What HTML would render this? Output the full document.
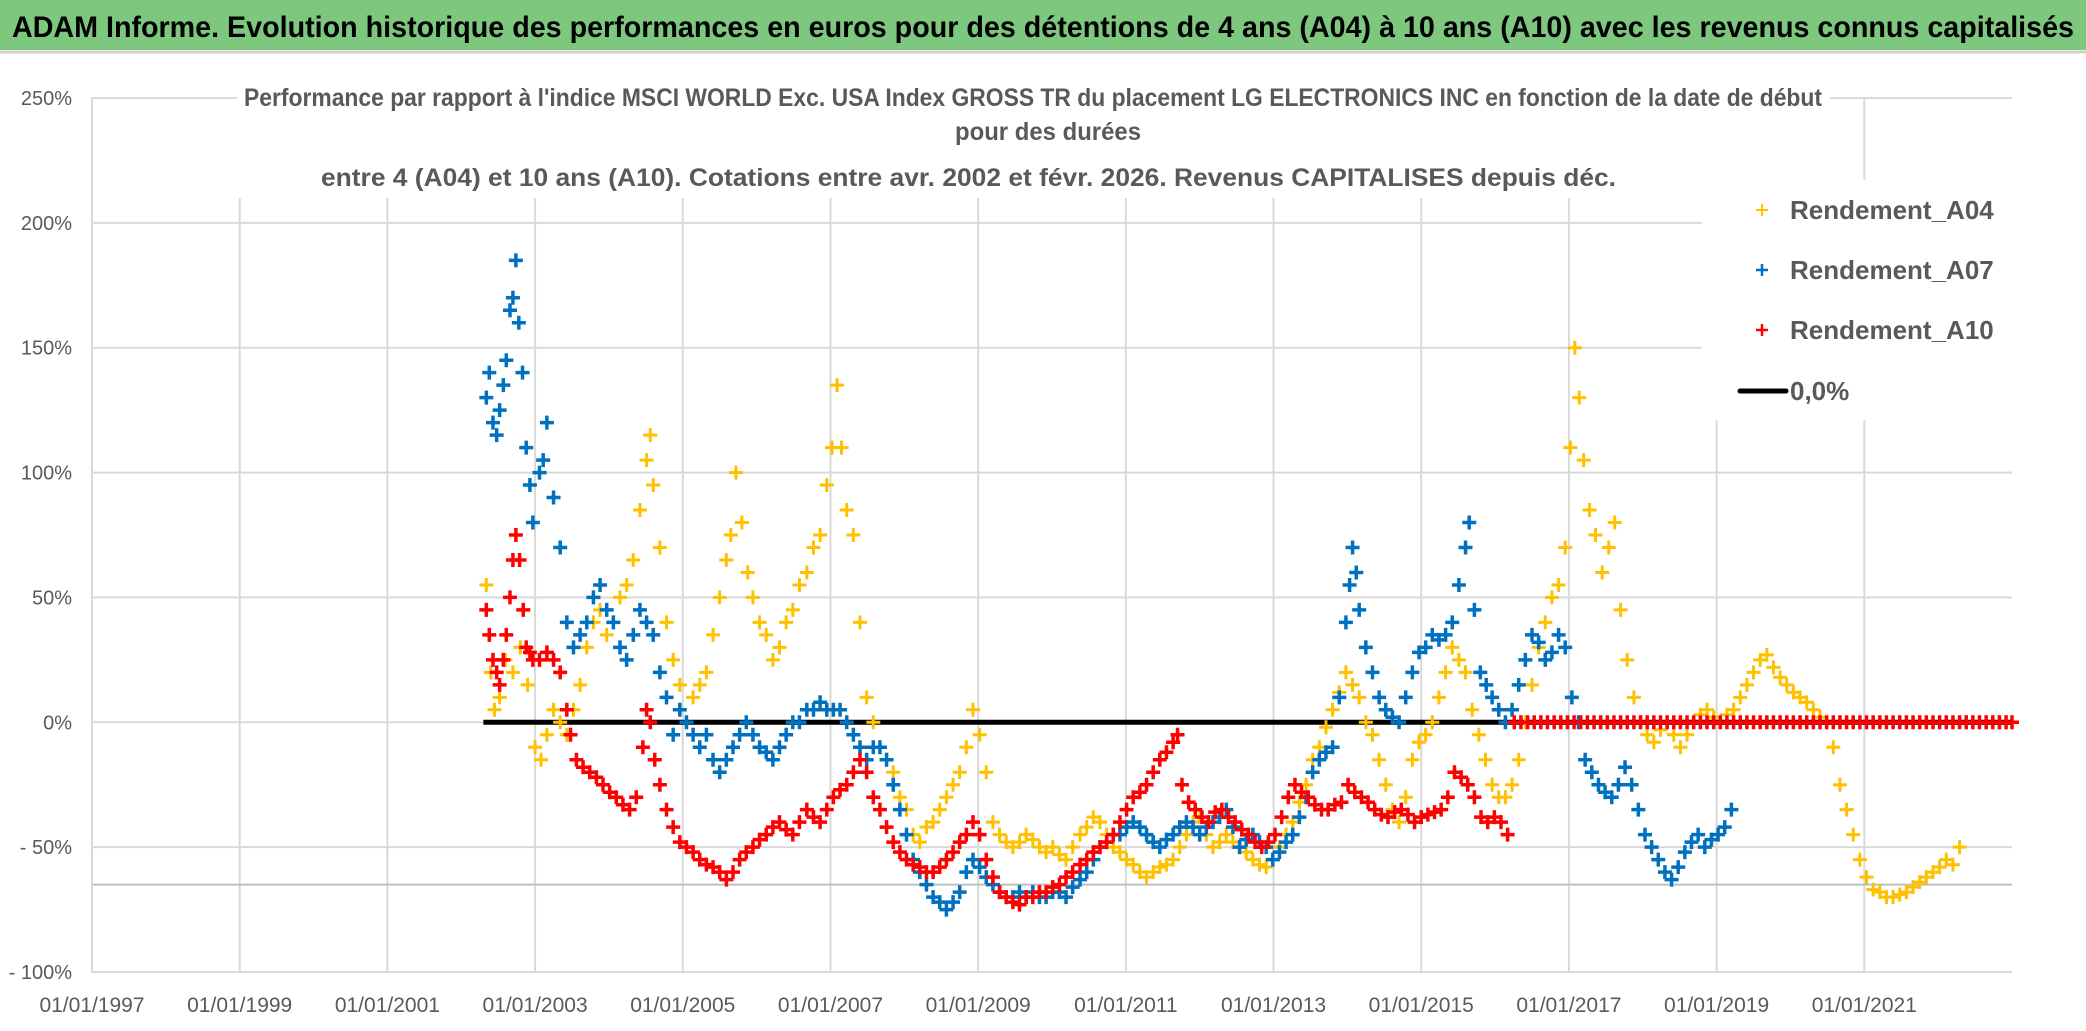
<!DOCTYPE html>
<html><head><meta charset="utf-8"><style>
html,body{margin:0;padding:0;background:#fff;}
svg{display:block;}
text{font-family:"Liberation Sans Narrow","Liberation Sans",sans-serif;}
</style></head><body>
<svg id="chart" width="2086" height="1031" viewBox="0 0 2086 1031" xmlns="http://www.w3.org/2000/svg">
<rect x="0" y="0" width="2086" height="1031" fill="#fff"/>
<rect x="0" y="0" width="2086" height="50" fill="#7dc87e"/>
<line x1="0" y1="52" x2="2086" y2="52" stroke="#d0d0d0" stroke-width="3"/>
<text x="12" y="37" font-size="30" font-weight="bold" fill="#000" textLength="2062" lengthAdjust="spacingAndGlyphs">ADAM Informe. Evolution historique des performances en euros pour des détentions de 4 ans (A04) à 10 ans (A10) avec les revenus connus capitalisés</text>
<g id="grid"></g>
<rect x="237" y="78" width="1593" height="120" fill="#fff"/>
<text x="244" y="106" font-size="25" font-weight="bold" fill="#595959" textLength="1578" lengthAdjust="spacingAndGlyphs">Performance par rapport à l'indice MSCI WORLD Exc. USA Index GROSS TR  du placement LG ELECTRONICS INC en fonction de la date de début</text>
<text x="1048" y="140" font-size="25" font-weight="bold" fill="#595959" text-anchor="middle" textLength="186" lengthAdjust="spacingAndGlyphs">pour des durées</text>
<text x="321" y="186" font-size="25" font-weight="bold" fill="#595959" textLength="1295" lengthAdjust="spacingAndGlyphs">entre 4 (A04) et 10 ans (A10). Cotations entre avr. 2002 et févr. 2026. Revenus CAPITALISES depuis déc.</text>
<g id="axes"></g>
<g id="series"></g>
<g>
<rect x="1702" y="180" width="313" height="240" fill="#fff"/>
<g><path d="M1756 210h12M1762 204v12" stroke="#ffc000" stroke-width="2"/><text x="1790" y="219" font-size="26" fill="#595959" font-weight="bold">Rendement_A04</text></g>
<g><path d="M1756 270h12M1762 264v12" stroke="#0070c0" stroke-width="2.5"/><text x="1790" y="279" font-size="26" fill="#595959" font-weight="bold">Rendement_A07</text></g>
<g><path d="M1756 330h12M1762 324v12" stroke="#ff0000" stroke-width="2.5"/><text x="1790" y="339" font-size="26" fill="#595959" font-weight="bold">Rendement_A10</text></g>
<g><line x1="1740" y1="391" x2="1786" y2="391" stroke="#000" stroke-width="5" stroke-linecap="round"/><text x="1790" y="400" font-size="26" fill="#595959" font-weight="bold">0,0%</text></g>
</g>
</svg>
<script>
const yTicks = [250,200,150,100,50,0,-50,-100];
const yTickLabels = ["250%","200%","150%","100%","50%","0%","- 50%","- 100%"];
const xTicks = [1997,1999,2001,2003,2005,2007,2009,2011,2013,2015,2017,2019,2021];
const xTickLabels = ["01/01/1997","01/01/1999","01/01/2001","01/01/2003","01/01/2005","01/01/2007","01/01/2009","01/01/2011","01/01/2013","01/01/2015","01/01/2017","01/01/2019","01/01/2021"];
const zeroLineRange = [2002.3, 2023.0];
const axisCross = -65;

const a04Years = [2002.34,2002.40,2002.45,2002.52,2002.60,2002.70,2002.80,2002.90,2003.00,2003.08,2003.16,2003.25,2003.34,2003.43,2003.52,2003.61,2003.70,2003.79,2003.88,2003.97,2004.06,2004.15,2004.24,2004.33,2004.42,2004.51,2004.56,2004.60,2004.69,2004.78,2004.87,2004.96,2005.05,2005.14,2005.23,2005.32,2005.41,2005.50,2005.59,2005.65,2005.72,2005.80,2005.88,2005.95,2006.04,2006.13,2006.22,2006.31,2006.40,2006.49,2006.58,2006.68,2006.77,2006.86,2006.95,2007.02,2007.09,2007.15,2007.22,2007.31,2007.40,2007.49,2007.58,2007.67,2007.76,2007.85,2007.94,2008.03,2008.12,2008.21,2008.30,2008.39,2008.48,2008.57,2008.66,2008.75,2008.84,2008.93,2009.02,2009.11,2009.20,2009.29,2009.38,2009.47,2009.56,2009.65,2009.74,2009.83,2009.92,2010.01,2010.10,2010.19,2010.28,2010.38,2010.47,2010.56,2010.65,2010.74,2010.83,2010.92,2011.01,2011.10,2011.19,2011.28,2011.37,2011.46,2011.55,2011.64,2011.73,2011.82,2011.91,2012.00,2012.09,2012.18,2012.27,2012.36,2012.45,2012.54,2012.63,2012.72,2012.81,2012.90,2012.99,2013.08,2013.17,2013.26,2013.35,2013.44,2013.53,2013.62,2013.71,2013.80,2013.89,2013.98,2014.07,2014.16,2014.25,2014.34,2014.43,2014.52,2014.61,2014.70,2014.79,2014.88,2014.97,2015.06,2015.15,2015.24,2015.33,2015.42,2015.51,2015.60,2015.69,2015.78,2015.87,2015.96,2016.05,2016.14,2016.23,2016.32,2016.41,2016.50,2016.59,2016.68,2016.77,2016.86,2016.95,2017.02,2017.08,2017.14,2017.20,2017.28,2017.36,2017.45,2017.54,2017.62,2017.70,2017.79,2017.88,2017.97,2018.06,2018.15,2018.24,2018.33,2018.42,2018.51,2018.60,2018.69,2018.78,2018.87,2018.96,2019.05,2019.14,2019.23,2019.32,2019.41,2019.50,2019.59,2019.68,2019.77,2019.86,2019.95,2020.04,2020.13,2020.22,2020.31,2020.40,2020.49,2020.58,2020.67,2020.76,2020.85,2020.94,2021.03,2021.12,2021.21,2021.30,2021.39,2021.48,2021.57,2021.66,2021.75,2021.84,2021.93,2022.02,2022.11,2022.20,2022.29,2022.38,2022.47,2022.56,2022.65,2022.74,2022.83,2022.92,2023.00];
const a04Values = [55,20,5,10,25,20,30,15,-10,-15,-5,5,0,-5,5,15,30,40,45,35,40,50,55,65,85,105,115,95,70,40,25,15,0,10,15,20,35,50,65,75,100,80,60,50,40,35,25,30,40,45,55,60,70,75,95,110,135,110,85,75,40,10,0,-10,-15,-20,-30,-35,-45,-48,-42,-40,-35,-30,-25,-20,-10,5,-5,-20,-40,-45,-48,-50,-48,-45,-47,-50,-52,-50,-53,-55,-50,-45,-42,-38,-40,-45,-50,-52,-55,-57,-60,-62,-60,-58,-57,-55,-50,-45,-40,-38,-45,-50,-48,-45,-48,-50,-52,-55,-57,-58,-55,-50,-45,-40,-32,-25,-15,-10,-2,5,12,20,15,10,0,-5,-15,-25,-35,-40,-30,-15,-8,-5,0,10,20,30,25,20,5,-5,-15,-25,-30,-30,-25,-15,0,15,30,40,50,55,70,110,150,130,105,85,75,60,70,80,45,25,10,0,-5,-8,-3,0,-5,-10,-5,0,3,5,2,0,3,5,10,15,20,25,27,22,18,15,12,10,8,5,2,0,-10,-25,-35,-45,-55,-62,-67,-68,-70,-70,-69,-68,-66,-64,-62,-60,-58,-55,-57,-50,0,0,0,0,0,0,0,0];

const a07Years = [2002.34,2002.38,2002.43,2002.48,2002.52,2002.57,2002.61,2002.66,2002.70,2002.74,2002.78,2002.83,2002.88,2002.93,2002.97,2003.06,2003.11,2003.16,2003.25,2003.34,2003.43,2003.52,2003.61,2003.70,2003.79,2003.88,2003.97,2004.06,2004.15,2004.24,2004.33,2004.42,2004.51,2004.60,2004.69,2004.78,2004.87,2004.96,2005.05,2005.14,2005.23,2005.32,2005.41,2005.50,2005.59,2005.68,2005.77,2005.86,2005.95,2006.04,2006.13,2006.22,2006.31,2006.40,2006.49,2006.58,2006.68,2006.77,2006.86,2006.95,2007.04,2007.13,2007.22,2007.31,2007.40,2007.49,2007.58,2007.67,2007.76,2007.85,2007.94,2008.03,2008.12,2008.21,2008.30,2008.39,2008.48,2008.57,2008.66,2008.75,2008.84,2008.93,2009.02,2009.11,2009.20,2009.29,2009.38,2009.47,2009.56,2009.65,2009.74,2009.83,2009.92,2010.01,2010.10,2010.19,2010.28,2010.38,2010.47,2010.56,2010.65,2010.74,2010.83,2010.92,2011.01,2011.10,2011.19,2011.28,2011.37,2011.46,2011.55,2011.64,2011.73,2011.82,2011.91,2012.00,2012.09,2012.18,2012.27,2012.36,2012.45,2012.54,2012.63,2012.72,2012.81,2012.90,2012.99,2013.08,2013.17,2013.26,2013.35,2013.44,2013.53,2013.62,2013.71,2013.80,2013.89,2013.98,2014.03,2014.07,2014.12,2014.16,2014.25,2014.34,2014.43,2014.52,2014.61,2014.70,2014.79,2014.88,2014.97,2015.06,2015.15,2015.24,2015.33,2015.42,2015.51,2015.60,2015.65,2015.72,2015.80,2015.88,2015.96,2016.05,2016.14,2016.23,2016.32,2016.41,2016.50,2016.59,2016.68,2016.77,2016.86,2016.95,2017.04,2017.13,2017.22,2017.31,2017.40,2017.49,2017.58,2017.67,2017.76,2017.85,2017.94,2018.03,2018.12,2018.21,2018.30,2018.39,2018.48,2018.57,2018.66,2018.75,2018.84,2018.93,2019.02,2019.11,2019.20];
const a07Values = [130,140,120,115,125,135,145,165,170,185,160,140,110,95,80,100,105,120,90,70,40,30,35,40,50,55,45,40,30,25,35,45,40,35,20,10,-5,5,0,-5,-10,-5,-15,-20,-15,-10,-5,0,-5,-10,-12,-15,-10,-5,0,0,5,5,8,5,5,5,0,-5,-10,-15,-10,-10,-15,-25,-35,-45,-55,-60,-65,-70,-72,-75,-72,-68,-60,-55,-58,-62,-65,-68,-70,-70,-68,-70,-68,-70,-70,-68,-68,-70,-66,-63,-60,-55,-50,-48,-45,-45,-42,-40,-42,-45,-48,-50,-47,-45,-42,-40,-42,-45,-42,-40,-38,-35,-42,-50,-47,-45,-48,-50,-55,-52,-48,-45,-38,-30,-20,-15,-12,-10,10,40,55,70,60,45,30,20,10,5,2,0,10,20,28,30,35,33,35,40,55,70,80,45,20,15,10,5,0,5,15,25,35,32,25,28,35,30,10,0,-15,-20,-25,-28,-30,-25,-18,-25,-35,-45,-50,-55,-60,-63,-58,-52,-48,-45,-50,-47,-45,-42,-35];

const a10Years = [2002.34,2002.38,2002.43,2002.48,2002.52,2002.57,2002.61,2002.66,2002.70,2002.74,2002.79,2002.84,2002.88,2002.93,2002.97,2003.06,2003.16,2003.25,2003.34,2003.43,2003.48,2003.56,2003.65,2003.74,2003.83,2003.92,2004.01,2004.10,2004.19,2004.28,2004.37,2004.46,2004.51,2004.56,2004.62,2004.69,2004.78,2004.87,2004.96,2005.05,2005.14,2005.23,2005.32,2005.41,2005.50,2005.59,2005.68,2005.77,2005.86,2005.95,2006.04,2006.13,2006.22,2006.31,2006.40,2006.49,2006.58,2006.68,2006.77,2006.86,2006.95,2007.04,2007.13,2007.22,2007.31,2007.40,2007.49,2007.58,2007.67,2007.76,2007.85,2007.94,2008.03,2008.12,2008.21,2008.30,2008.39,2008.48,2008.57,2008.66,2008.75,2008.84,2008.93,2009.02,2009.11,2009.20,2009.29,2009.38,2009.47,2009.56,2009.65,2009.74,2009.83,2009.92,2010.01,2010.10,2010.19,2010.28,2010.38,2010.47,2010.56,2010.65,2010.74,2010.83,2010.92,2011.01,2011.10,2011.19,2011.28,2011.37,2011.46,2011.55,2011.64,2011.70,2011.76,2011.85,2011.94,2012.03,2012.12,2012.21,2012.30,2012.39,2012.48,2012.57,2012.66,2012.75,2012.84,2012.93,2013.02,2013.11,2013.20,2013.29,2013.38,2013.47,2013.56,2013.65,2013.74,2013.83,2013.92,2014.01,2014.10,2014.19,2014.28,2014.37,2014.46,2014.55,2014.64,2014.73,2014.82,2014.91,2015.00,2015.09,2015.18,2015.27,2015.36,2015.45,2015.54,2015.63,2015.72,2015.81,2015.90,2015.99,2016.08,2016.17,2016.26,2016.35,2016.44,2016.53,2016.62,2016.71,2016.80,2016.89,2016.98,2017.07,2017.16,2017.25,2017.34,2017.43,2017.52,2017.61,2017.70,2017.79,2017.88,2017.97,2018.06,2018.15,2018.24,2018.33,2018.42,2018.51,2018.60,2018.69,2018.78,2018.87,2018.96,2019.05,2019.14,2019.23,2019.32,2019.41,2019.50,2019.59,2019.68,2019.77,2019.86,2019.95,2020.04,2020.13,2020.22,2020.31,2020.40,2020.49,2020.58,2020.67,2020.76,2020.85,2020.94,2021.03,2021.12,2021.21,2021.30,2021.39,2021.48,2021.57,2021.66,2021.75,2021.84,2021.93,2022.02,2022.11,2022.20,2022.29,2022.38,2022.47,2022.56,2022.65,2022.74,2022.83,2022.92,2023.00];
const a10Values = [45,35,25,20,15,25,35,50,65,75,65,45,30,28,25,25,28,25,20,5,-5,-15,-18,-20,-22,-25,-28,-30,-33,-35,-30,-10,5,0,-15,-25,-35,-42,-48,-50,-52,-55,-57,-58,-60,-63,-60,-55,-52,-50,-47,-45,-42,-40,-43,-45,-40,-35,-38,-40,-35,-30,-27,-25,-20,-15,-20,-30,-35,-42,-48,-52,-55,-57,-58,-60,-60,-58,-55,-52,-48,-45,-40,-45,-55,-62,-68,-70,-72,-73,-70,-70,-68,-68,-66,-65,-62,-60,-57,-55,-52,-50,-48,-45,-40,-35,-30,-28,-25,-20,-15,-12,-8,-5,-25,-32,-35,-38,-40,-36,-35,-38,-40,-43,-45,-48,-50,-48,-45,-38,-30,-25,-28,-30,-33,-35,-35,-33,-32,-25,-28,-30,-32,-35,-37,-38,-36,-35,-37,-40,-38,-37,-36,-35,-30,-20,-22,-25,-30,-38,-40,-38,-40,-45,0,0,0,0,0,0,0,0,0,0,0,0,0,0,0,0,0,0,0,0,0,0,0,0,0,0,0,0,0,0,0,0,0,0,0,0,0,0,0,0,0,0,0,0,0,0,0,0,0,0,0,0,0,0,0,0,0,0,0,0,0,0,0,0,0,0,0,0,0,0,0,0,0,0,0,0];

const NS = "http://www.w3.org/2000/svg";
const plotLeft = 92, plotRight = 2012, plotTop = 98, plotBottom = 972;
function xScale(yr){ return plotLeft + (yr - 1997) / (2023 - 1997) * (plotRight - plotLeft); }
function yScale(v){ return plotBottom - (v + 100) / 350 * (plotBottom - plotTop); }
function mk(tag, attrs, parent){ const e = document.createElementNS(NS, tag); for (const k in attrs) e.setAttribute(k, attrs[k]); parent.appendChild(e); return e; }

const grid = document.getElementById('grid');
const axes = document.getElementById('axes');
yTicks.forEach((t, i) => {
  const y = yScale(t);
  const gl = mk('line', {x1: plotLeft, y1: y, x2: plotRight, y2: y, stroke: '#d9d9d9', 'stroke-width': 2}, grid);
  
  
  const lb = mk('text', {x: 72, y: y + 7, 'font-size': 20, fill: '#595959', 'text-anchor': 'end'}, axes);
  lb.textContent = yTickLabels[i];
  
  
});
xTicks.forEach((t, i) => {
  const x = xScale(t);
  const gl = mk('line', {x1: x, y1: plotTop, x2: x, y2: plotBottom, stroke: '#d9d9d9', 'stroke-width': 2}, grid);
  
  
  const lb = mk('text', {x: x, y: 1012, 'font-size': 21, fill: '#595959', 'text-anchor': 'middle'}, axes);
  lb.textContent = xTickLabels[i];
  
  
});
const ax = mk('line', {x1: plotLeft, y1: yScale(axisCross), x2: plotRight, y2: yScale(axisCross), stroke: '#bfbfbf', 'stroke-width': 2}, axes);


const ay = mk('line', {x1: plotLeft, y1: plotTop, x2: plotLeft, y2: plotBottom, stroke: '#d9d9d9', 'stroke-width': 2}, axes);



const series = document.getElementById('series');
const zl = mk('line', {x1: xScale(zeroLineRange[0]), y1: yScale(0), x2: xScale(zeroLineRange[1]), y2: yScale(0), stroke: '#000', 'stroke-width': 5}, series);



function drawSeries(years, vals, color, name, sw){
  const g = mk('g', {}, series);
  
  
  const n = Math.min(years.length, vals.length);
  for (let i = 0; i < n; i++){
    const x = xScale(years[i]), y = yScale(vals[i]);
    const p = mk('path', {d: `M${x-7} ${y}h14M${x} ${y-7}v14`, stroke: color, 'stroke-width': sw, fill: 'none'}, g);
    
    
  }
}
drawSeries(a04Years, a04Values, '#ffc000', 'series-a04', 3);
drawSeries(a07Years, a07Values, '#0070c0', 'series-a07', 3.5);
drawSeries(a10Years, a10Values, '#ff0000', 'series-a10', 3.5);
</script>
</body></html>
